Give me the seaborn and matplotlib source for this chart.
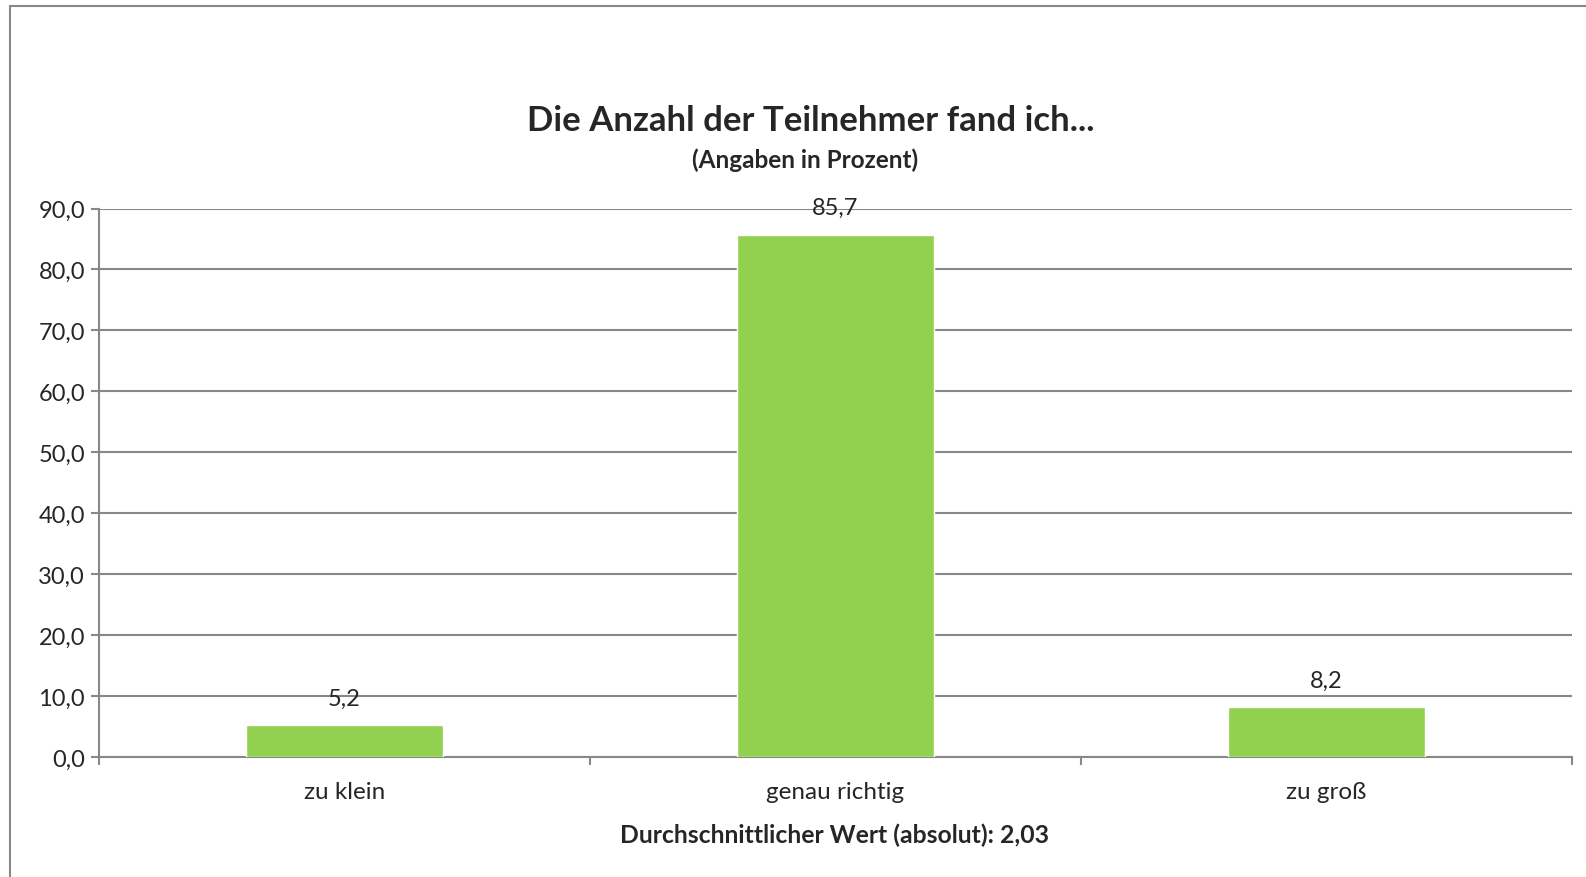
import matplotlib
matplotlib.use("Agg")
import matplotlib.pyplot as plt
import seaborn as sns
from matplotlib.patches import Rectangle
from matplotlib.ticker import FixedLocator, FuncFormatter

kategorien = ["zu klein", "genau richtig", "zu groß"]
prozent = [5.2, 85.7, 8.2]
titel = "Die Anzahl der Teilnehmer fand ich..."
untertitel = "(Angaben in Prozent)"
fusszeile = "Durchschnittlicher Wert (absolut): 2,03"

sns.set_style("white")
plt.rcParams["font.family"] = ["Lato", "DejaVu Sans"]

grau = "#888888"
gruen = "#92D050"

fig = plt.figure(figsize=(15.86, 8.78), dpi=100)
ax = fig.add_axes([99 / 1586, 1 - 758 / 878, (1572 - 99) / 1586, (758 - 209.5) / 878])

sns.barplot(x=kategorien, y=prozent, color=gruen, width=0.4, saturation=1, ax=ax, zorder=3)

ax.set_xlim(-0.5, 2.5)
ax.set_ylim(0, 90)
ax.set_yticks(range(0, 91, 10))
ax.yaxis.set_major_formatter(FuncFormatter(lambda v, p: f"{v:.1f}".replace(".", ",")))
ax.grid(axis="y", color=grau, linewidth=1.5, zorder=0)
ax.set_axisbelow(True)

for s in ["top", "right"]:
    ax.spines[s].set_visible(False)
for s in ["left", "bottom"]:
    ax.spines[s].set_color(grau)
    ax.spines[s].set_linewidth(1.5)

ax.tick_params(axis="y", length=6, width=1.5, color=grau, labelsize=17, pad=4, left=True)
ax.tick_params(axis="x", which="major", length=0, labelsize=17.5, pad=17)
ax.xaxis.set_minor_locator(FixedLocator([-0.5, 0.5, 1.5, 2.5]))
ax.tick_params(axis="x", which="minor", length=6, width=1.5, color=grau, bottom=True)
ax.set_xlabel("")
ax.set_ylabel("")

for i, v in enumerate(prozent):
    ax.annotate(f"{v:.1f}".replace(".", ","), (i, v), xytext=(0, 12), textcoords="offset points",
                ha="center", va="bottom", fontsize=17)

fig.text(811 / 1586, 1 - 121 / 878, titel, ha="center", va="center", fontsize=25, fontweight="bold")
fig.text(805 / 1586, 1 - 160 / 878, untertitel, ha="center", va="center", fontsize=17.5, fontweight="bold")
fig.text(835 / 1586, 1 - 835 / 878, fusszeile, ha="center", va="center", fontsize=17.8, fontweight="bold")

fig.patches.append(Rectangle((10 / 1586, -0.1), 1.2, 1.1 - 6.5 / 878, transform=fig.transFigure,
                             fill=False, edgecolor=grau, linewidth=1.5))

fig.savefig("out.png", dpi=100)
